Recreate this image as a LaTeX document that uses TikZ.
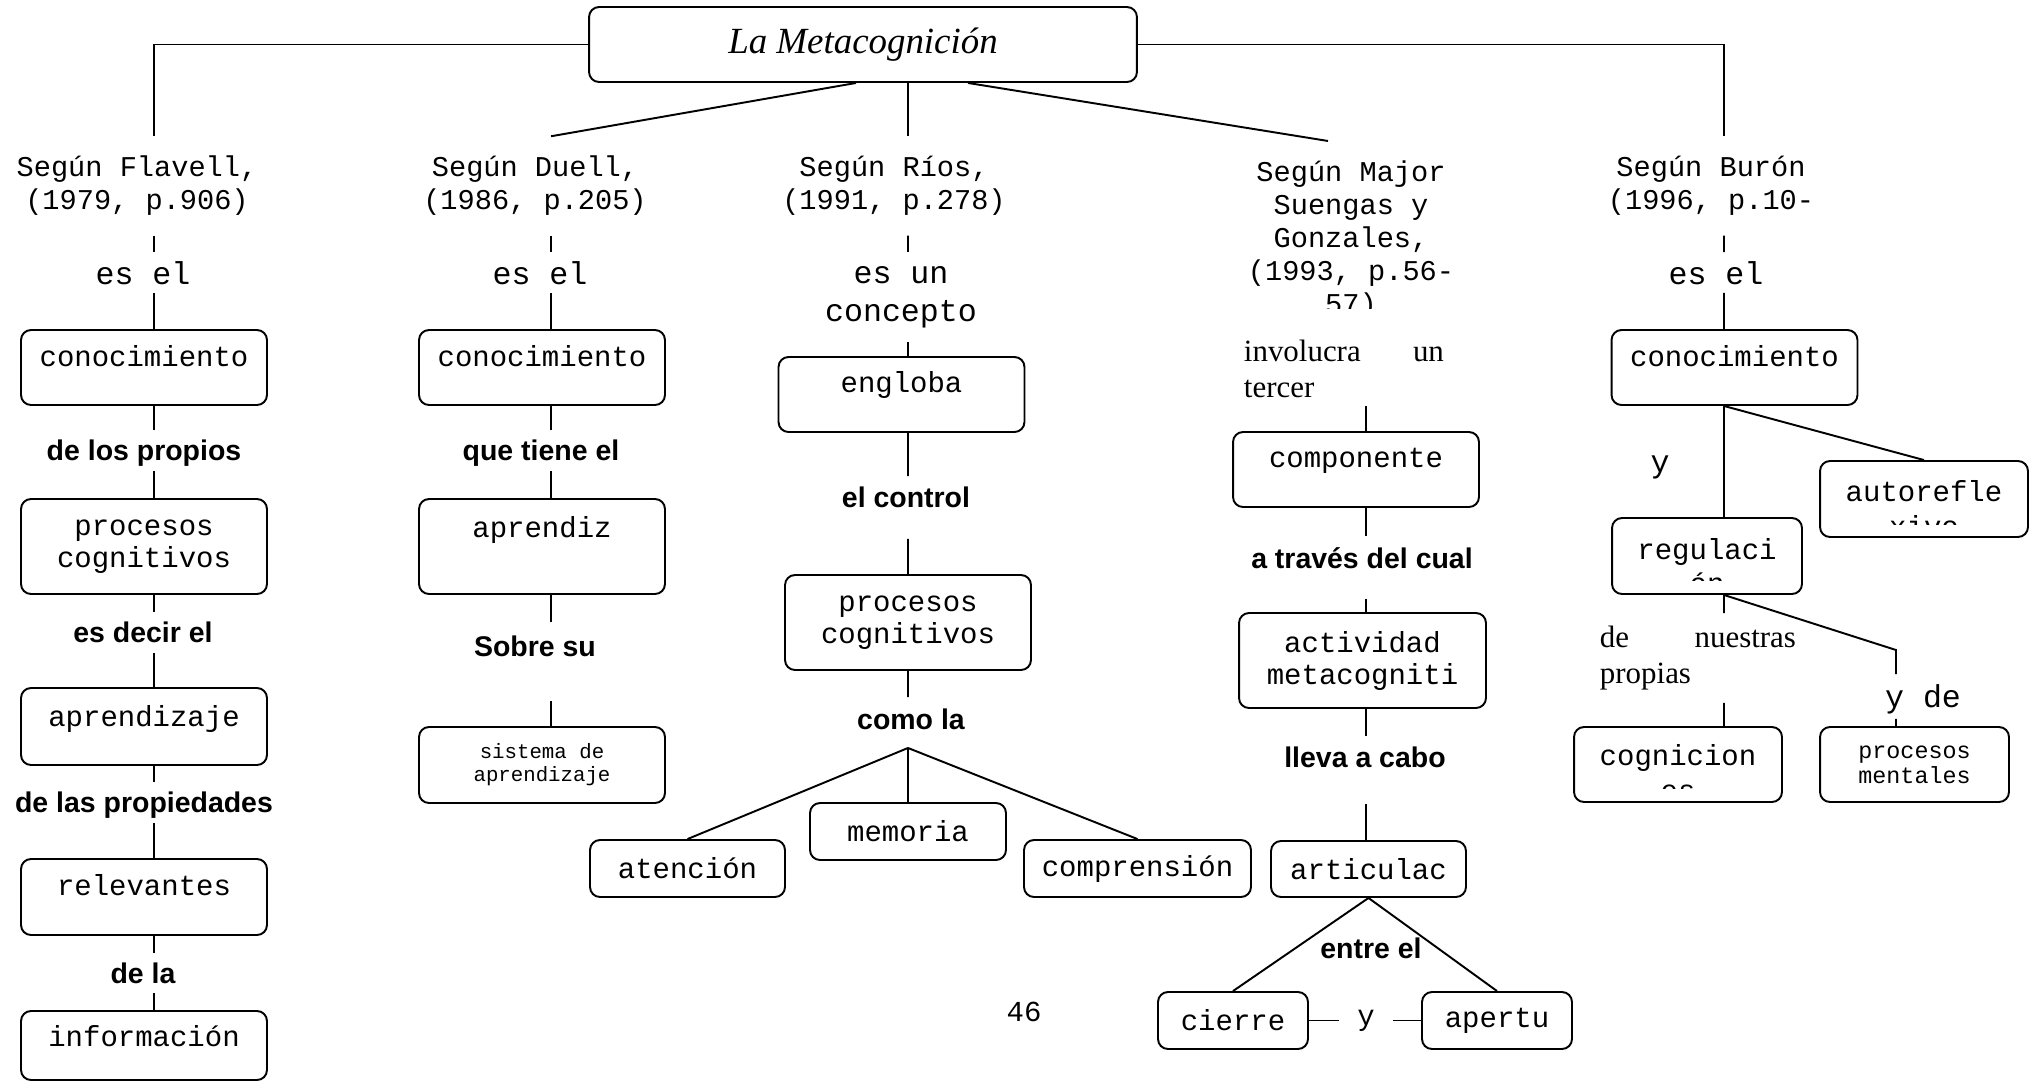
\documentclass[tikz,border=0pt]{standalone}
\usepackage{fontspec}
\setmainfont{Liberation Serif}
\setsansfont{Liberation Sans}
\setmonofont{Liberation Mono}
\usetikzlibrary{calc}

\begin{document}
\begin{tikzpicture}[
    x=0.02cm, y=-0.02cm, line width=1.1pt,
    boxtext/.style={font=\ttfamily\fontsize{16.5}{18.2}\selectfont},
    concept/.style={draw, rounded corners=0.2cm, inner ysep=0pt, minimum width=4.92cm, align=center, boxtext},
    src/.style={align=center, inner ysep=0.38cm, font=\ttfamily\fontsize{16.3}{18.7}\selectfont},
    verb/.style={align=center, font=\ttfamily\fontsize{18}{21.6}\selectfont},
    verbrow/.style={verb, inner ysep=0pt, text height=0.62cm, text depth=0.16cm},
    link/.style={inner ysep=0pt, text height=0.59cm, text depth=0.19cm, font=\sffamily\bfseries\fontsize{16.2}{19}\selectfont},
    note/.style={align=left, inner xsep=0pt, font=\rmfamily\fontsize{17.6}{20.5}\selectfont}
  ]
    \useasboundingbox (0,0) rectangle (2036,1083);
    \coordinate (colF) at (154,0);
    \coordinate (colD) at (551,0);
    \coordinate (colR) at (908,0);
    \coordinate (colM) at (1366,0);
    \coordinate (colB) at (1724,0);

    \node[draw, rounded corners=0.2cm, minimum width=10.96cm, minimum height=1.5cm, font=\itshape\fontsize{21}{25}\selectfont] (meta) at (863,44.5) {La Metacognición};

    \node[src] (fla) at (137,186) {Según Flavell,\\(1979, p.906)};
    \node[src] (due) at (535,186) {Según Duell,\\(1986, p.205)};
    \node[src] (rio) at (894,186) {Según Ríos,\\(1991, p.278)};
    \begin{scope}
      \clip (1150,100) rectangle (1560,308);
      \node[src] (maj) at (1351,240) {Según Major\\Suengas y\\Gonzales,\\(1993, p.56-\\57)};
    \end{scope}
    \node[src] (bur) at (1711,186) {Según Burón\\(1996, p.10-};

    \node[verbrow] (esel1) at (143,272.5) {es el};
    \node[verbrow] (esel2) at (540,272.5) {es el};
    \node[verb, inner ysep=0.27cm] (esun) at (901,297) {es un\\concepto};
    \node[verbrow] (esel3) at (1716,272.5) {es el};

    \node[concept, text height=0.72cm, text depth=0.78cm] (kno1) at (144,367.5) {conocimiento};
    \node[link] (own) at (144,450.5) {de los propios};
    \node[concept, minimum height=1.9cm] (proc1) at (144,546.5) {procesos\\cognitivos};
    \node[link] (said) at (143,632.5) {es decir el};
    \node[concept, text height=0.76cm, text depth=0.78cm] (learn1) at (144,726.5) {aprendizaje};
    \node[link] (props) at (144,802.5) {de las propiedades};
    \node[concept, text height=0.72cm, text depth=0.8cm] (relev) at (144,897) {relevantes};
    \node[link] (ofthe) at (143,973) {de la};
    \node[concept, text height=0.7cm, text depth=0.68cm] (info) at (144,1045.5) {información};

    \node[concept, text height=0.72cm, text depth=0.78cm] (kno2) at (542,367.5) {conocimiento};
    \node[link] (has) at (541,450.5) {que tiene el};
    \node[concept, text height=0.76cm, text depth=1.14cm] (learner) at (542,546.5) {aprendiz};
    \node[link, text height=0.67cm, text depth=0.87cm] (about) at (535,661.5) {Sobre su};
    \node[concept, minimum height=1.52cm, font=\ttfamily\fontsize{11.8}{13.1}\selectfont] (sys) at (542,765) {sistema de\\aprendizaje};

    \node[concept, text height=0.7cm, text depth=0.8cm] (wraps) at (901.5,394.5) {engloba};
    \node[link, text height=0.61cm, text depth=0.61cm] (ctrl) at (906,507.5) {el control};
    \node[concept, minimum height=1.9cm] (proc2) at (908,622.5) {procesos\\cognitivos};
    \node[link, text height=0.63cm, text depth=0.35cm] (like) at (911,722.5) {como la};
    \node[concept, minimum width=3.9cm, minimum height=1.14cm] (att) at (687.5,868.5) {atención};
    \node[concept, minimum width=3.92cm, minimum height=1.14cm] (mem) at (908,831.5) {memoria};
    \node[concept, minimum width=4.54cm, minimum height=1.14cm] (compr) at (1137.5,868.5) {comprensión};

    \node[note, anchor=south west, inner ysep=0.14cm] (invol) at (1243,406) {\makebox[4cm][s]{involucra un}\\tercer};
    \node[concept, text height=0.7cm, text depth=0.8cm] (comp) at (1356,469.5) {componente};
    \node[link, text height=0.63cm, text depth=0.59cm] (via) at (1362,567.5) {a través del cual};
    \node[concept, minimum width=4.94cm, minimum height=1.9cm] (act) at (1362.5,660.5) {actividad\\metacogniti};
    \node[link, text height=0.61cm, text depth=0.71cm] (does) at (1365,770) {lleva a cabo};
    \node[concept, minimum width=3.9cm, minimum height=1.12cm] (artic) at (1368.5,869) {articulac};
    \node[link] (betw) at (1371,948) {entre el};
    \node[concept, minimum width=3cm, minimum height=1.14cm] (close) at (1233,1020.5) {cierre};
    \node[boxtext, inner xsep=0.35cm] (yand) at (1366,1020.5) {y};
    \node[concept, minimum width=3cm, minimum height=1.14cm] (open) at (1497,1020.5) {apertu};

    \node[concept, text height=0.72cm, text depth=0.78cm] (kno3) at (1734.5,367.5) {conocimiento};
    \node[verb] (also) at (1660,467) {y};
    \node[concept, minimum width=4.16cm, text height=0.8cm, text depth=0.72cm] (self) at (1924,499) {autorefle};
    \node[concept, minimum width=3.8cm, text height=0.82cm, text depth=0.7cm] (reg) at (1707,556) {regulaci};
    \node[note, anchor=north west, inner ysep=0.24cm] (ours) at (1599,613) {\makebox[3.92cm][s]{de nuestras}\\propias};
    \coordinate (bend) at (1896,650);
    \node[verb, inner ysep=0pt, text height=0.64cm, text depth=0.22cm] (andof) at (1923,696.5) {y de};
    \node[concept, minimum width=4.16cm, text height=0.76cm, text depth=0.74cm] (cogn) at (1678,764.5) {cognicion};
    \node[concept, minimum width=3.78cm, minimum height=1.5cm, font=\ttfamily\fontsize{13.3}{14.2}\selectfont] (ment) at (1914.5,764.5) {procesos\\mentales};

    \begin{scope}
      \clip (1820,500) rectangle (2028,524);
      \node[boxtext, anchor=base] (selfb) at (1924,536) {xivo};
    \end{scope}
    \begin{scope}
      \clip (1612,565) rectangle (1802,580);
      \node[boxtext, anchor=base] (regb) at (1707,593) {ón};
    \end{scope}
    \begin{scope}
      \clip (1574,775) rectangle (1782,788);
      \node[boxtext, anchor=base] (cognb) at (1678,800) {es};
    \end{scope}

    \node[boxtext] (page) at (1024,1012) {46};

    \draw (meta.west) -| (colF |- fla.north);
    \draw (meta.east) -| (colB |- bur.north);
    \draw ($(meta.south)+(-7,0)$) -- (colD |- due.north);
    \draw (colR |- meta.south) -- (colR |- rio.north);
    \draw ($(meta.south)+(105,0)$) -- ($(maj.north)+(-23,0)$);

    \draw (colF |- fla.south) -- (colF |- esel1.north)
          (colF |- esel1.south) -- (colF |- kno1.north)
          (colF |- kno1.south) -- (colF |- own.north)
          (colF |- own.south) -- (colF |- proc1.north)
          (colF |- proc1.south) -- (colF |- said.north)
          (colF |- said.south) -- (colF |- learn1.north)
          (colF |- learn1.south) -- (colF |- props.north)
          (colF |- props.south) -- (colF |- relev.north)
          (colF |- relev.south) -- (colF |- ofthe.north)
          (colF |- ofthe.south) -- (colF |- info.north);

    \draw (colD |- due.south) -- (colD |- esel2.north)
          (colD |- esel2.south) -- (colD |- kno2.north)
          (colD |- kno2.south) -- (colD |- has.north)
          (colD |- has.south) -- (colD |- learner.north)
          (colD |- learner.south) -- (colD |- about.north)
          (colD |- about.south) -- (colD |- sys.north);

    \draw (colR |- rio.south) -- (colR |- esun.north)
          (colR |- esun.south) -- (colR |- wraps.north)
          (colR |- wraps.south) -- (colR |- ctrl.north)
          (colR |- ctrl.south) -- (colR |- proc2.north)
          (colR |- proc2.south) -- (colR |- like.north)
          (colR |- like.south) -- (att.north)
          (colR |- like.south) -- (mem.north)
          (colR |- like.south) -- (compr.north);

    \draw (colM |- invol.south) -- (colM |- comp.north)
          (colM |- comp.south) -- (colM |- via.north)
          (colM |- via.south) -- (colM |- act.north)
          (colM |- act.south) -- (colM |- does.north)
          (colM |- does.south) -- (colM |- artic.north);
    \draw (close.north) -- (artic.south) -- (open.north);
    \draw (close) -- (yand) -- (open);

    \draw (colB |- bur.south) -- (colB |- esel3.north)
          (colB |- esel3.south) -- (colB |- kno3.north)
          (colB |- kno3.south) -- (colB |- reg.north)
          (colB |- kno3.south) -- (self.north)
          (colB |- reg.south) -- (colB |- ours.north)
          (colB |- ours.south) -- (colB |- cogn.north)
          (colB |- reg.south) -- (bend) -- (bend |- andof.north)
          (bend |- andof.south) -- (bend |- ment.north);
  \end{tikzpicture}
\end{document}
